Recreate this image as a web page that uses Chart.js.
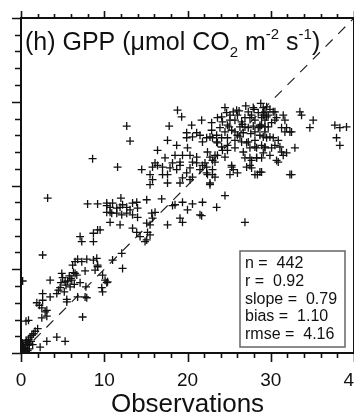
<!DOCTYPE html>
<html>
<head>
<meta charset="utf-8">
<script src="https://cdn.jsdelivr.net/npm/chart.js@4.4.1/dist/chart.umd.min.js"></script>
<style>
	html, body { margin: 0; padding: 0; overflow: hidden; background: #fff; }
	canvas { display: block; }
</style>
</head>
<body>
<canvas id="gppChart" width="370" height="418"></canvas>
<script>
var obs = [
	0.1,0.2,0.3,0.4,0.5,0.6,0.7,0.8,0.9,1.0,1.1,1.2,1.3,0.2,0.0,0.5,1.5,1.7,1.4,0.8,2.0,0.3,0.6,1.0,
	2.3,3.1,4.3,5.3,0.6,0.9,2.5,3.1,3.1,2.9,2.5,2.2,1.9,2.6,2.6,3.5,4.3,4.5,4.8,5.3,5.6,5.5,5.5,6.8,7.9,7.4,
	4.9,3.5,6.5,6.7,7.7,6.1,6.0,7.1,7.8,6.5,6.8,7.3,9.1,9.2,9.8,10.1,10.3,10.4,9.7,9.8,12.2,11.0,2.6,0.2,7.7,
	8.9,9.2,6.2,12.1,7.9,8.7,5.0,5.8,6.3,5.4,4.7,5.9,6.4,5.2,
	7.1,7.3,8.7,8.7,9.5,9.2,13.9,14.3,14.9,15.2,15.5,15.1,13.4,15.5,
	3.2,8.0,9.2,10.3,10.7,12.0,16.9,18.2,19.4,20.6,10.3,10.7,11.0,11.5,11.9,12.2,12.7,13.1,13.4,13.9,14.0,
	10.3,10.9,11.5,12.1,12.7,13.4,14.0,10.7,11.9,15.1,15.7,16.1,15.1,15.8,17.6,18.5,19.1,19.4,20.0,21.5,
	21.8,23.5,24.5,26.9,21.7,
	11.6,8.6,14.5,15.5,15.8,16.1,16.4,17.0,17.6,17.9,18.2,18.7,19.1,19.4,19.9,20.3,20.6,21.1,21.5,21.8,22.3,
	22.7,23.0,15.8,15.5,17.6,19.1,20.3,22.3,23.3,23.0,22.4,23.3,22.7,25.3,25.5,26.0,27.1,27.5,27.7,28.1,28.7,
	30.9,32.3,17.3,17.0,19.1,20.6,21.1,22.1,22.7,23.0,22.4,23.3,24.5,23.6,25.1,26.9,27.5,28.4,27.7,28.3,29.1,
	29.9,28.9,28.9,30.7,31.5,31.9,
	12.7,13.1,17.8,18.8,19.3,20.5,21.7,22.9,22.9,23.6,24.1,24.5,24.7,25.1,17.6,16.4,18.7,19.9,19.9,20.6,21.1,
	21.5,21.8,22.3,22.7,23.0,23.5,20.0,19.4,20.3,18.5,24.1,24.8,25.3,27.1,28.1,29.1,28.7,27.9,27.5,29.1,29.5,
	29.5,29.3,
	24.2,23.9,25.1,25.5,25.9,25.7,26.0,26.5,26.3,26.9,27.3,27.7,28.1,28.5,29.1,29.3,29.7,29.3,28.9,28.5,28.1,
	27.3,26.9,26.7,26.0,25.7,25.3,24.8,24.5,24.1,24.8,25.7,26.5,27.3,28.1,28.7,29.3,29.7,30.1,30.5,30.7,31.5,
	31.7,31.3,31.7,29.9,30.3,30.9,28.9,28.3,27.5,26.7,25.7,24.8,24.2,23.6,28.3,30.5,31.3,23.5,
	29.1,28.9,29.5,28.7,29.3,30.3,30.5,31.9,32.5,33.5,33.7,35.1,34.7,37.7,38.3,39.1,37.9,38.3,30.1,31.1,
	32.9,32.5,29.3,32.3,
	26.2,27.0,28.0,28.8,26.6,27.9,25.0,27.6,26.3,29.9
];
var model = [
	0.3,0.6,0.9,0.4,1.0,0.6,1.3,0.9,1.6,1.1,1.9,1.4,2.1,1.2,0.9,0.2,2.3,2.6,1.0,0.3,2.9,0.1,1.5,0.5,
	0.7,1.4,1.9,1.4,3.8,3.9,4.2,5.1,4.4,4.9,5.4,5.7,6.0,6.3,7.1,6.7,7.1,7.5,8.4,8.5,8.6,6.4,6.1,6.7,6.6,4.3,
	9.5,8.7,9.5,9.3,9.8,8.7,8.9,8.4,7.9,10.9,11.2,10.9,11.3,10.3,9.3,8.7,8.4,8.5,7.8,7.3,10.1,11.1,11.7,8.6,6.7,
	9.9,10.5,10.5,11.9,11.2,11.1,9.0,9.2,9.6,8.1,7.8,7.9,8.2,7.3,
	13.9,13.3,14.3,13.3,14.7,14.7,14.4,13.9,13.3,14.4,14.1,13.5,14.9,15.3,
	18.5,17.8,17.8,17.6,16.8,18.5,18.4,17.6,18.0,17.8,17.9,17.4,17.9,17.3,17.4,17.7,17.4,17.1,17.9,18.0,17.3,
	16.8,16.7,16.7,16.5,16.7,16.5,16.2,15.6,15.3,15.5,16.7,16.8,18.3,16.1,15.3,17.7,16.1,15.6,17.1,16.5,
	18.0,17.4,18.8,15.6,16.4,
	22.2,23.2,21.9,21.3,22.2,22.7,22.4,22.2,21.3,22.1,22.7,21.9,22.4,20.9,21.5,22.1,21.0,22.7,21.9,22.4,21.5,
	20.3,21.3,20.7,20.1,20.3,20.3,20.7,22.2,22.8,21.9,21.3,21.0,20.1,22.2,21.9,21.5,22.2,22.4,22.1,21.3,21.6,
	22.8,21.3,23.3,21.3,22.8,22.8,23.4,22.7,23.4,23.0,24.0,23.6,23.4,23.6,21.3,23.3,23.3,21.3,23.0,23.3,23.9,
	23.6,23.3,21.6,23.0,23.6,23.9,
	27.1,25.3,27.1,29.0,28.2,27.2,27.8,27.5,26.6,28.1,28.2,29.3,28.7,27.8,25.4,24.2,24.8,26.3,25.7,25.8,26.3,
	26.0,25.2,25.7,25.8,25.7,25.2,24.5,23.6,23.6,23.6,24.6,24.2,22.4,25.1,24.6,25.8,27.0,29.3,28.1,28.4,29.4,
	25.7,24.5,
	27.6,26.9,28.4,28.8,29.0,27.8,28.4,27.6,27.0,28.1,28.8,28.4,27.8,28.7,29.3,28.8,28.4,27.8,27.2,26.9,26.4,
	26.9,27.0,26.3,26.0,26.4,26.6,27.2,26.4,25.7,25.7,25.4,25.2,25.2,25.4,26.0,26.4,27.0,27.5,28.8,28.1,28.4,
	27.8,26.9,26.4,25.8,25.7,25.4,24.8,24.5,24.5,24.0,24.5,24.8,24.2,25.1,23.3,24.8,24.0,26.0,
	28.7,28.1,28.2,27.2,27.0,28.8,27.8,26.9,26.4,28.8,28.4,27.8,26.9,27.2,26.9,27.0,25.7,24.8,24.5,24.6,
	24.5,21.3,24.6,26.4,
	28.9,29.5,29.1,29.8,27.3,27.1,27.0,26.2,25.8,29.1
];
// 1:1 reference line
var oneToOne = [0, 40];
var axisMin = 0, axisMax = 40;
var majorStep = 10, minorStep = 2;
var titleParts = [
	{ text: '(h) GPP (\u03bcmol CO', kind: 'n' },
	{ text: '2', kind: 'sub' },
	{ text: ' m', kind: 'n' },
	{ text: '-2', kind: 'sup' },
	{ text: ' s', kind: 'n' },
	{ text: '-1', kind: 'sup' },
	{ text: ')', kind: 'n' }
];
var statLabels = ['n = ', 'r = ', 'slope = ', 'bias = ', 'rmse = '];
var statValues = ['442', '0.92', '0.79', '1.10', '4.16'];

var fontFamily = '"Liberation Sans", Arial, Helvetica, sans-serif';

var points = obs.map(function(v, i) { return { x: v, y: model[i] }; });

var framePlugin = {
	id: 'frame',
	afterDraw: function(chart) {
		var ctx = chart.ctx;
		var a = chart.chartArea;
		var xs = chart.scales.x, ys = chart.scales.y;
		ctx.save();
		ctx.strokeStyle = '#111';
		ctx.lineWidth = 2;
		ctx.strokeRect(a.left, a.top, a.right - a.left, a.bottom - a.top);

		ctx.lineWidth = 1.6;
		ctx.beginPath();
		for (var v = axisMin; v <= axisMax; v += minorStep) {
			var major = v % majorStep === 0;
			var px = Math.round(xs.getPixelForValue(v)) + 0.5;
			var py = Math.round(ys.getPixelForValue(v)) + 0.5;
			// bottom
			ctx.moveTo(px, a.bottom);
			ctx.lineTo(px, a.bottom + (major ? 9 : 5));
			// top
			ctx.moveTo(px, a.top);
			ctx.lineTo(px, a.top - (major ? 7 : 4));
			// left
			ctx.moveTo(a.left, py);
			ctx.lineTo(a.left - (major ? 9 : 6), py);
			// right
			ctx.moveTo(a.right, py);
			ctx.lineTo(a.right + (major ? 9 : 6), py);
		}
		ctx.stroke();

		// panel title
		var x = a.left + 4;
		var base = 50;
		ctx.fillStyle = '#111';
		ctx.textBaseline = 'alphabetic';
		ctx.textAlign = 'left';
		titleParts.forEach(function(p) {
			var size = p.kind === 'n' ? 25 : 15;
			var dy = p.kind === 'sub' ? 7 : (p.kind === 'sup' ? -11 : 0);
			ctx.font = size + 'px ' + fontFamily;
			ctx.fillText(p.text, x, base + dy);
			x += ctx.measureText(p.text).width;
		});

		// statistics box
		ctx.fillStyle = '#fff';
		ctx.fillRect(240, 251, 105, 96);
		ctx.strokeStyle = '#666';
		ctx.lineWidth = 1.5;
		ctx.strokeRect(240, 251, 105, 96);
		ctx.fillStyle = '#111';
		ctx.font = '16px ' + fontFamily;
		statLabels.forEach(function(lbl, i) {
			ctx.fillText(lbl + ' ' + statValues[i], 245, 268 + i * 17.8);
		});
		ctx.restore();
	}
};

new Chart(document.getElementById('gppChart'), {
	type: 'scatter',
	data: {
		datasets: [{
			label: '1:1',
			type: 'line',
			data: oneToOne.map(function(v) { return { x: v, y: v }; }),
			borderColor: '#222',
			borderWidth: 1.2,
			borderDash: [10, 8],
			pointRadius: 0,
			fill: false,
			order: 2
		}, {
			label: 'GPP',
			data: points,
			pointStyle: 'cross',
			pointRadius: 4,
			borderColor: '#111',
			backgroundColor: 'rgba(0,0,0,0)',
			borderWidth: 1.3,
			order: 1
		}]
	},
	options: {
		responsive: false,
		animation: false,
		layout: { padding: { left: 21, right: 16, top: 18, bottom: 0 } },
		plugins: { legend: { display: false }, tooltip: { enabled: false } },
		scales: {
			x: {
				type: 'linear',
				min: axisMin,
				max: axisMax,
				grid: { display: false, drawTicks: false },
				border: { display: false },
				ticks: { stepSize: majorStep, padding: 16, color: '#111', font: { family: fontFamily, size: 19 } },
				title: { display: true, text: 'Observations', color: '#111', padding: { top: 0, bottom: 0 }, font: { family: fontFamily, size: 26, lineHeight: 1 } },
				afterFit: function(s) { s.height = 65; s.paddingLeft = 0; s.paddingRight = 0; }
			},
			y: {
				type: 'linear',
				min: axisMin,
				max: axisMax,
				display: false
			}
		}
	},
	plugins: [framePlugin]
});
</script>
</body>
</html>
